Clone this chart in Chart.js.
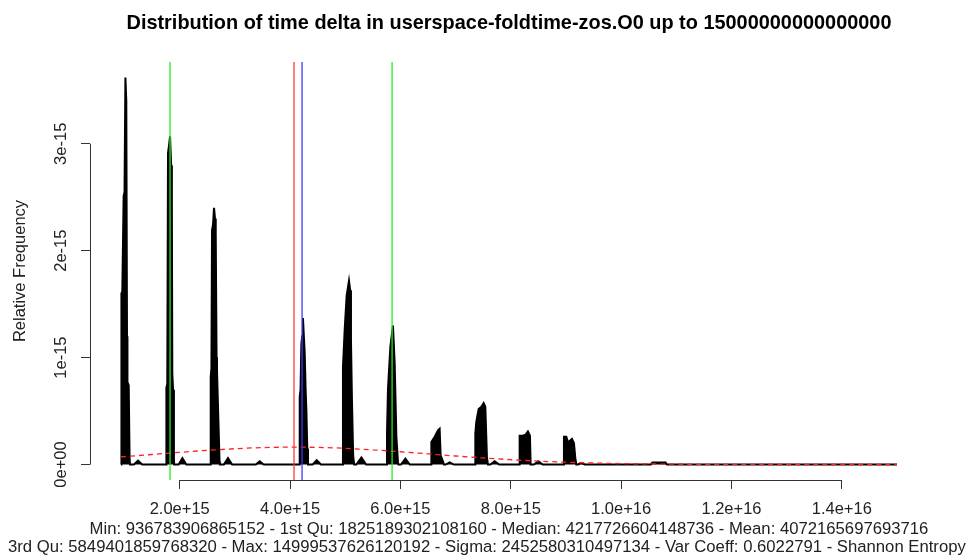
<!DOCTYPE html>
<html>
<head>
<meta charset="utf-8">
<script src="https://cdn.jsdelivr.net/npm/chart.js@4.4.1/dist/chart.umd.min.js"></script>
<style>
  html, body { margin: 0; padding: 0; background: #ffffff; }
  #wrap { position: relative; width: 970px; height: 558px; }
  canvas { display: block; }
</style>
</head>
<body>
<div id="wrap"><canvas id="c" width="970" height="558"></canvas></div>
<script>
// ---------- data ----------
const X_UNIT = 1e15;   // x values below are in units of 1e15
const Y_UNIT = 1e-15;  // density values below are in units of 1e-15

const chartTitle = "Distribution of time delta in userspace-foldtime-zos.O0 up to 15000000000000000";
const yAxisTitle = "Relative Frequency";
const statsLine1 = "Min: 936783906865152 - 1st Qu: 1825189302108160 - Median: 4217726604148736 - Mean: 4072165697693716";
const statsLine2 = "3rd Qu: 5849401859768320 - Max: 14999537626120192 - Sigma: 2452580310497134 - Var Coeff: 0.6022791 - Shannon Entropy";

// kernel density outline (black filled polygon)
const densityX = [
  0.937, 0.944, 0.960, 0.984, 1.000, 1.016, 1.032, 1.045, 1.053, 1.076, 1.092, 1.100,
  1.170, 1.245, 1.320,
  1.755, 1.759, 1.775, 1.788, 1.810, 1.825, 1.845, 1.858, 1.866, 1.880, 1.895, 1.900,
  1.980, 2.049, 2.120,
  2.558, 2.562, 2.575, 2.586, 2.605, 2.622, 2.640, 2.653, 2.668, 2.676, 2.702, 2.722, 2.728,
  2.800, 2.875, 2.950,
  3.380, 3.450, 3.520,
  4.170, 4.175, 4.190, 4.205, 4.220, 4.234, 4.250, 4.265, 4.282, 4.296, 4.312, 4.325,
  4.410, 4.483, 4.560,
  4.955, 4.959, 4.990, 5.026, 5.068, 5.090, 5.104, 5.122, 5.144, 5.162,
  5.200, 5.293, 5.380,
  5.753, 5.757, 5.775, 5.818, 5.865, 5.896, 5.927, 5.956, 5.965,
  6.010, 6.090, 6.170,
  6.557, 6.561, 6.621, 6.681, 6.711, 6.729, 6.771, 6.789,
  6.820, 6.893, 6.970,
  7.354, 7.358, 7.376, 7.418, 7.467, 7.509, 7.539, 7.568, 7.586,
  7.630, 7.708, 7.790,
  8.157, 8.161, 8.220, 8.270, 8.311, 8.348, 8.360,
  8.420, 8.500, 8.580,
  8.960, 8.964, 9.007, 9.036, 9.067, 9.109, 9.145, 9.170, 9.188,
  9.220, 9.279, 9.340,
  10.540, 10.565, 10.806, 10.830,
  15.000
];
const densityY = [
  0.000, 1.600, 1.620, 2.510, 2.550, 3.620, 3.400, 1.200, 0.770, 0.740, 0.050, 0.000,
  0.000, 0.037, 0.000,
  0.000, 0.720, 0.750, 2.910, 3.000, 3.070, 2.800, 2.400, 0.850, 0.700, 0.050, 0.000,
  0.000, 0.060, 0.000,
  0.000, 0.820, 0.900, 2.190, 2.250, 2.400, 2.300, 2.160, 1.000, 0.880, 0.400, 0.030, 0.000,
  0.000, 0.060, 0.000,
  0.000, 0.030, 0.000,
  0.000, 0.630, 0.700, 1.130, 1.200, 1.370, 1.200, 1.050, 0.700, 0.510, 0.150, 0.000,
  0.000, 0.040, 0.000,
  0.000, 0.910, 1.260, 1.580, 1.720, 1.630, 1.160, 0.600, 0.080, 0.000,
  0.000, 0.065, 0.000,
  0.000, 0.290, 0.710, 1.100, 1.300, 0.950, 0.260, 0.020, 0.000,
  0.000, 0.055, 0.000,
  0.000, 0.210, 0.260, 0.320, 0.335, 0.085, 0.030, 0.000,
  0.000, 0.020, 0.000,
  0.000, 0.290, 0.400, 0.520, 0.540, 0.575, 0.540, 0.070, 0.000,
  0.000, 0.030, 0.000,
  0.000, 0.270, 0.270, 0.280, 0.310, 0.270, 0.000,
  0.000, 0.030, 0.000,
  0.000, 0.260, 0.260, 0.210, 0.220, 0.240, 0.200, 0.060, 0.000,
  0.000, 0.015, 0.000,
  0.000, 0.020, 0.020, 0.000,
  0.000
];

// red dashed reference curve
const normalX = [0.937, 1, 1.5, 2, 2.5, 3, 3.5, 4, 4.5, 5, 5.5, 6, 6.5, 7, 7.5, 8, 8.5, 9, 9.5, 10, 11, 12, 13, 14, 15];
const normalY = [0.0719, 0.0742, 0.0939, 0.1139, 0.1325, 0.1479, 0.1583, 0.1626, 0.1602, 0.1515, 0.1373, 0.1195,
                 0.0997, 0.0798, 0.0613, 0.0451, 0.0319, 0.0216, 0.0141, 0.0088, 0.0030, 0.0009, 0.0002, 0.00004, 0.00001];

// summary statistics drawn as vertical lines
const statNames  = ["1st Qu", "Mean", "Median", "3rd Qu"];
const statValues = [1825189302108160, 4072165697693716, 4217726604148736, 5849401859768320];
const statColors = ["#22ee22", "#ff3a3a", "#3a3aff", "#22ee22"];

// axes
const xTicks = [2e15, 4e15, 6e15, 8e15, 1e16, 1.2e16, 1.4e16];
const xTickLabels = ["2.0e+15", "4.0e+15", "6.0e+15", "8.0e+15", "1.0e+16", "1.2e+16", "1.4e+16"];
const yTicks = [0, 1e-15, 2e-15, 3e-15];
const yTickLabels = ["0e+00", "1e-15", "2e-15", "3e-15"];
const xLimits = [3.743e14, 1.55621e16];
const yLimits = [-1.448e-16, 3.765e-15];

// ---------- chart ----------
const FONT = '"Liberation Sans", Arial, Helvetica, sans-serif';
const AXIS_COLOR = '#333333';
const TEXT_SIZE = 16.5;

const densityData = densityX.map((v, i) => ({ x: v * X_UNIT, y: densityY[i] * Y_UNIT }));
const normalData = normalX.map((v, i) => ({ x: v * X_UNIT, y: normalY[i] * Y_UNIT }));

const datasets = [];
statValues.forEach((v, i) => {
  datasets.push({
    label: statNames[i],
    data: [{ x: v, y: yLimits[0] }, { x: v, y: yLimits[1] }],
    borderColor: statColors[i],
    borderWidth: 1.3,
    pointRadius: 0,
    fill: false
  });
});
datasets.push({
  label: 'normal',
  data: normalData,
  borderColor: '#ff2020',
  borderWidth: 1.3,
  borderDash: [5, 4],
  pointRadius: 0,
  fill: false,
  cubicInterpolationMode: 'monotone'
});
datasets.push({
  label: 'density',
  data: densityData,
  borderColor: '#000000',
  backgroundColor: '#000000',
  borderWidth: 2,
  pointRadius: 0,
  fill: 'origin',
  tension: 0
});

const decorPlugin = {
  id: 'decor',
  afterDraw(chart) {
    const ctx = chart.ctx;
    const xs = chart.scales.x, ys = chart.scales.y;
    const area = chart.chartArea;
    ctx.save();
    // R-style axis lines spanning from first to last tick
    ctx.strokeStyle = AXIS_COLOR;
    ctx.lineWidth = 1;
    ctx.beginPath();
    ctx.moveTo(xs.getPixelForValue(xTicks[0]), area.bottom + 0.5);
    ctx.lineTo(xs.getPixelForValue(xTicks[xTicks.length - 1]), area.bottom + 0.5);
    ctx.moveTo(area.left + 0.5, ys.getPixelForValue(yTicks[0]));
    ctx.lineTo(area.left + 0.5, ys.getPixelForValue(yTicks[yTicks.length - 1]));
    ctx.stroke();
    // title
    ctx.fillStyle = '#000000';
    ctx.textAlign = 'center';
    ctx.textBaseline = 'alphabetic';
    ctx.font = 'bold 19.9px ' + FONT;
    ctx.fillText(chartTitle, (area.left + area.right) / 2, 29);
    // stats lines
    ctx.font = '16.7px ' + FONT;
    ctx.fillStyle = '#222222';
    ctx.fillText(statsLine1, (area.left + area.right) / 2, 534);
    ctx.textAlign = 'left';
    ctx.fillText(statsLine2, 8, 552);
    ctx.restore();
  }
};

new Chart(document.getElementById('c'), {
  type: 'line',
  data: { datasets },
  options: {
    responsive: false,
    devicePixelRatio: 1,
    animation: false,
    events: [],
    layout: { padding: { left: 0, right: 42, top: 62, bottom: 0 } },
    plugins: {
      legend: { display: false },
      tooltip: { enabled: false },
      title: { display: false }
    },
    scales: {
      x: {
        type: 'linear',
        min: xLimits[0],
        max: xLimits[1],
        afterBuildTicks: (scale) => { scale.ticks = xTicks.map(v => ({ value: v })); },
        afterFit: (scale) => { scale.height = 78; },
        border: { display: false },
        grid: { display: true, drawOnChartArea: false, drawTicks: true, tickLength: 9, color: AXIS_COLOR, lineWidth: 1 },
        ticks: {
          autoSkip: false,
          maxRotation: 0,
          minRotation: 0,
          padding: 11,
          color: '#222222',
          font: { family: FONT, size: TEXT_SIZE },
          callback: (value, index) => xTickLabels[index]
        }
      },
      y: {
        type: 'linear',
        min: yLimits[0],
        max: yLimits[1],
        afterBuildTicks: (scale) => { scale.ticks = yTicks.map(v => ({ value: v })); },
        afterFit: (scale) => { scale.width = 90; },
        border: { display: false },
        grid: { display: true, drawOnChartArea: false, drawTicks: true, tickLength: 9, color: AXIS_COLOR, lineWidth: 1 },
        ticks: {
          autoSkip: false,
          minRotation: 90,
          maxRotation: 90,
          crossAlign: 'center',
          padding: -4,
          color: '#222222',
          font: { family: FONT, size: TEXT_SIZE },
          callback: (value, index) => yTickLabels[index]
        },
        title: {
          display: true,
          text: yAxisTitle,
          color: '#222222',
          font: { family: FONT, size: TEXT_SIZE },
          padding: { top: 10.5, bottom: 0 }
        }
      }
    }
  },
  plugins: [decorPlugin]
});
</script>
</body>
</html>
